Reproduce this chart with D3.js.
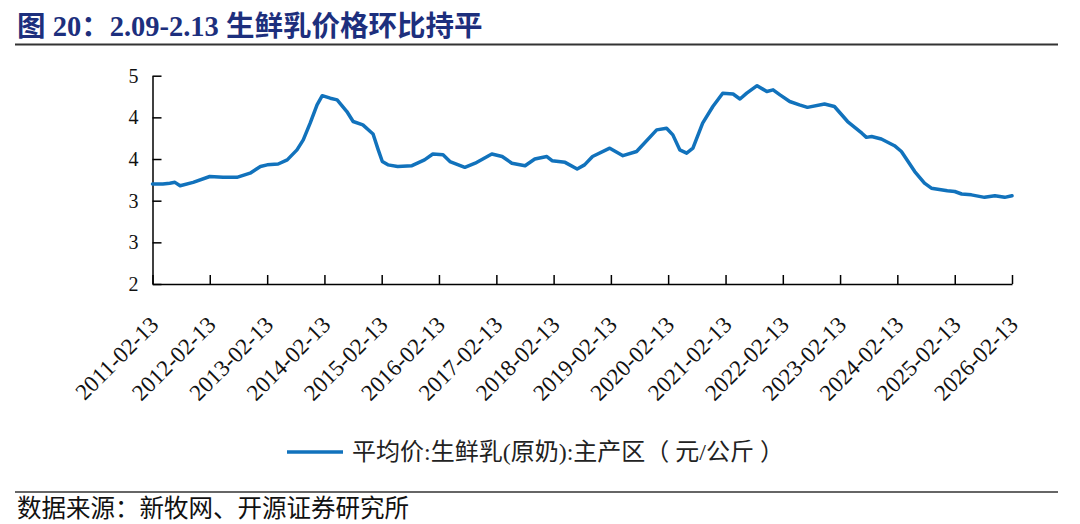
<!DOCTYPE html>
<html><head><meta charset="utf-8">
<script src="https://cdn.jsdelivr.net/npm/d3@7"></script>
<style>
html,body{margin:0;padding:0;background:#fff;}
svg{display:block;}
</style></head>
<body>
<script>
const titleText = "图 20：2.09-2.13 生鲜乳价格环比持平";
const sourceText = "数据来源：新牧网、开源证券研究所";
const seriesName = "平均价:生鲜乳(原奶):主产区（ 元/公斤 ）";
const yTickValues = [2, 2.5, 3, 3.5, 4, 4.5];
const yTickLabels = ["2", "3", "3", "4", "4", "5"];
const xTickLabels = ["2011-02-13","2012-02-13","2013-02-13","2014-02-13","2015-02-13","2016-02-13","2017-02-13","2018-02-13","2019-02-13","2020-02-13","2021-02-13","2022-02-13","2023-02-13","2024-02-13","2025-02-13","2026-02-13"];
const dates = ["2011-02-13","2011-04-20","2011-06-03","2011-07-06","2011-08-08","2011-10-30","2012-02-13","2012-05-08","2012-08-04","2012-10-27","2013-01-01","2013-02-13","2013-04-24","2013-06-21","2013-08-22","2013-10-01","2013-11-14","2013-12-28","2014-01-30","2014-03-22","2014-05-05","2014-07-06","2014-08-15","2014-10-16","2014-12-02","2014-12-20","2015-01-22","2015-02-17","2015-03-25","2015-05-26","2015-08-25","2015-11-13","2016-01-05","2016-03-10","2016-04-23","2016-07-27","2016-10-01","2017-01-15","2017-03-22","2017-05-23","2017-08-15","2017-10-16","2018-01-01","2018-02-03","2018-04-27","2018-07-13","2018-08-29","2018-10-19","2019-02-06","2019-05-01","2019-07-27","2019-12-02","2020-02-03","2020-03-14","2020-04-27","2020-06-10","2020-07-20","2020-09-20","2020-11-24","2021-01-26","2021-04-02","2021-05-16","2021-06-28","2021-09-02","2021-11-03","2021-12-13","2022-01-26","2022-03-29","2022-05-30","2022-07-20","2022-11-06","2023-01-08","2023-04-02","2023-07-02","2023-07-31","2023-09-02","2023-11-03","2024-01-26","2024-03-10","2024-06-03","2024-08-04","2024-09-17","2024-12-28","2025-02-13","2025-03-29","2025-05-30","2025-08-22","2025-10-27","2025-12-28","2026-02-13"];
const prices = [3.20,3.20,3.21,3.22,3.18,3.22,3.29,3.28,3.28,3.33,3.41,3.43,3.44,3.49,3.61,3.73,3.93,4.15,4.26,4.23,4.21,4.07,3.95,3.91,3.83,3.80,3.61,3.47,3.43,3.41,3.42,3.49,3.56,3.55,3.47,3.40,3.45,3.56,3.53,3.45,3.42,3.50,3.53,3.48,3.46,3.38,3.43,3.53,3.63,3.54,3.59,3.85,3.87,3.79,3.61,3.57,3.63,3.93,4.13,4.29,4.28,4.22,4.29,4.38,4.31,4.33,4.27,4.19,4.15,4.12,4.16,4.13,3.95,3.81,3.76,3.77,3.74,3.66,3.59,3.35,3.21,3.15,3.12,3.11,3.08,3.07,3.04,3.06,3.04,3.06];

const W = 1080, H = 524;
const parse = d3.timeParse("%Y-%m-%d");
const data = dates.map((d, i) => ({date: parse(d), value: prices[i]}));
const xTickDates = xTickLabels.map(parse);

const svg = d3.select("body").append("svg").attr("width", W).attr("height", H);
const serif = "'Liberation Serif', 'Times New Roman', 'Noto Sans CJK SC', serif";

// title
svg.append("text").attr("x", 17).attr("y", 36)
  .attr("font-family", serif).attr("font-weight", "bold").attr("font-size", 28.5)
  .attr("fill", "#1d2f7d").text(titleText);
svg.append("line").attr("x1", 15).attr("x2", 1058).attr("y1", 44.5).attr("y2", 44.5)
  .attr("stroke", "#333").attr("stroke-width", 2);

// source
svg.append("line").attr("x1", 15).attr("x2", 1058).attr("y1", 492).attr("y2", 492)
  .attr("stroke", "#333").attr("stroke-width", 1.5);
svg.append("text").attr("x", 17).attr("y", 517)
  .attr("font-family", serif).attr("font-size", 24.5)
  .attr("fill", "#111").text(sourceText);

const x = d3.scaleTime().domain([xTickDates[0], xTickDates[xTickDates.length - 1]]).range([152.5, 1012]);
const y = d3.scaleLinear().domain([2, 4.5]).range([284, 75.7]);

// y axis
const yAxis = d3.axisLeft(y).tickValues(yTickValues)
  .tickFormat((d, i) => yTickLabels[i]).tickSizeInner(-9).tickSizeOuter(0).tickPadding(14);
const gy = svg.append("g").attr("transform", "translate(152.5,0)").call(yAxis);
gy.select(".domain").attr("stroke", "#000").attr("stroke-width", 1.5);
gy.selectAll(".tick line").attr("stroke", "#000").attr("stroke-width", 1.5);
gy.selectAll(".tick text").attr("font-family", serif).attr("font-size", 20).attr("fill", "#111");

// x axis
const xAxis = d3.axisBottom(x).tickValues(xTickDates)
  .tickFormat((d, i) => xTickLabels[i]).tickSizeInner(-9).tickSizeOuter(0);
const gx = svg.append("g").attr("transform", "translate(0,284)").call(xAxis);
gx.select(".domain").attr("stroke", "#000").attr("stroke-width", 1.5);
gx.selectAll(".tick line").attr("stroke", "#000").attr("stroke-width", 1.5);
gx.selectAll(".tick text")
  .attr("font-family", serif).attr("font-size", 23).attr("fill", "#111")
  .attr("text-anchor", "end").attr("dy", null).attr("y", 0)
  .attr("transform", "translate(7,42) rotate(-45)");

// line
const line = d3.line().x(d => x(d.date)).y(d => y(d.value)).curve(d3.curveLinear);
svg.append("path").datum(data).attr("d", line)
  .attr("fill", "none").attr("stroke", "#1172bc").attr("stroke-width", 3.5)
  .attr("stroke-linejoin", "round").attr("stroke-linecap", "round");

// legend
svg.append("line").attr("x1", 287).attr("x2", 343).attr("y1", 452).attr("y2", 452)
  .attr("stroke", "#1172bc").attr("stroke-width", 3.5);
svg.append("text").attr("x", 352).attr("y", 460)
  .attr("font-family", serif).attr("font-size", 24).attr("fill", "#222").text(seriesName);
</script>
</body></html>
